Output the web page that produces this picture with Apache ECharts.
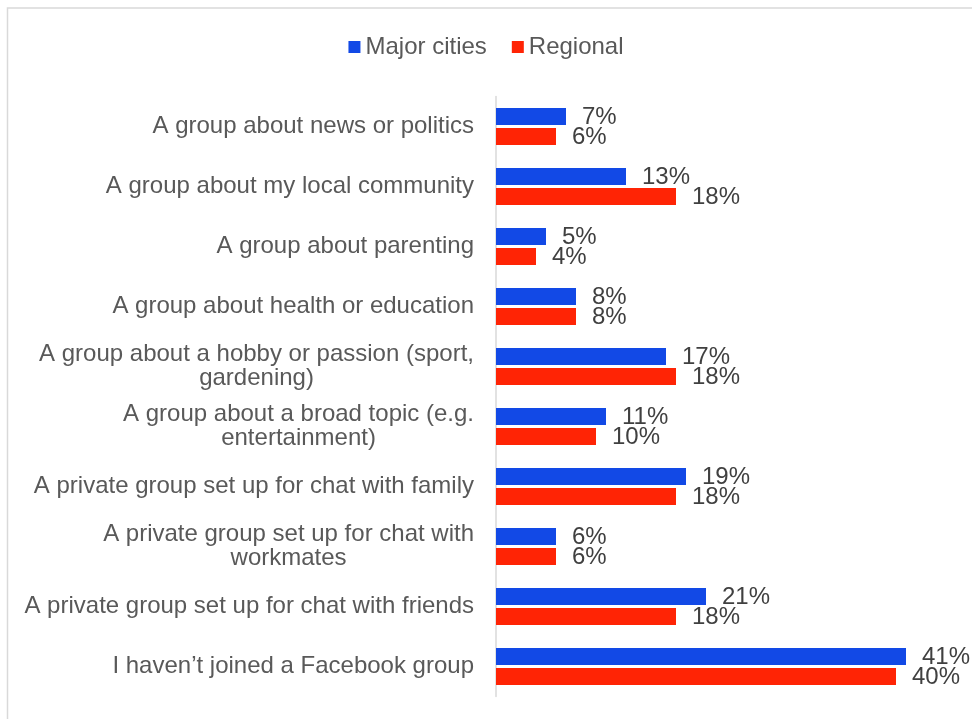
<!DOCTYPE html>
<html>
<head>
<meta charset="utf-8">
<script src="https://cdn.jsdelivr.net/npm/echarts@6/dist/echarts.min.js"></script>
<style>
  html, body { margin: 0; padding: 0; background: #ffffff; }
  #chart { width: 972px; height: 719px; }
</style>
</head>
<body>
<div id="chart"></div>
<script>
// Facebook group membership by location (percent of respondents)
const categories = [
  'A group about news or politics',
  'A group about my local community',
  'A group about parenting',
  'A group about health or education',
  'A group about a hobby or passion (sport,\ngardening)',
  'A group about a broad topic (e.g.\nentertainment)',
  'A private group set up for chat with family',
  'A private group set up for chat with\nworkmates',
  'A private group set up for chat with friends',
  'I haven\u2019t joined a Facebook group'
];
const majorCities = [7, 13, 5, 8, 17, 11, 19, 6, 21, 41];
const regional = [6, 18, 4, 8, 18, 10, 18, 6, 18, 40];

const FONT = '"Liberation Sans", Arial, sans-serif';
const FS = 24;
const BLUE = '#1249e6';
const RED = '#ff2405';

const chart = echarts.init(document.getElementById('chart'), null, { renderer: 'canvas' });

const valueLabel = {
  show: true,
  position: 'right',
  distance: 16,
  offset: [0, 1],
  color: '#404040',
  fontFamily: FONT,
  fontSize: FS,
  formatter: p => p.value + '%'
};

chart.setOption({
  animation: false,
  backgroundColor: '#ffffff',
  graphic: [{
    type: 'rect',
    silent: true,
    shape: { x: 7.5, y: 8, width: 1000, height: 760 },
    style: { fill: null, stroke: '#d9d9d9', lineWidth: 1.5 }
  }],
  legend: {
    top: 30,
    left: 'center',
    icon: 'rect',
    itemWidth: 12,
    itemHeight: 12,
    itemGap: 25,
    textStyle: { color: '#595959', fontFamily: FONT, fontSize: FS },
    data: ['Major cities', 'Regional']
  },
  grid: { left: 496, right: 26, top: 96.5, bottom: 22.5, containLabel: false },
  xAxis: {
    type: 'value',
    min: 0,
    max: 45,
    show: false
  },
  yAxis: {
    type: 'category',
    inverse: true,
    data: categories,
    axisLine: { show: true, lineStyle: { color: '#d9d9d9', width: 1.5 } },
    axisTick: { show: false },
    splitLine: { show: false },
    axisLabel: {
      margin: 22,
      color: '#595959',
      fontFamily: FONT,
      fontSize: FS,
      lineHeight: 24,
      formatter: v => v.split('\n').map(s => '{c|' + s + '}').join('\n'),
      rich: {
        c: { align: 'center', color: '#595959', fontFamily: FONT, fontSize: FS, lineHeight: 24 }
      }
    }
  },
  series: [
    {
      name: 'Major cities',
      type: 'bar',
      data: majorCities,
      barWidth: 17,
      barGap: '18%',
      itemStyle: { color: BLUE },
      label: valueLabel
    },
    {
      name: 'Regional',
      type: 'bar',
      data: regional,
      barWidth: 17,
      barGap: '18%',
      itemStyle: { color: RED },
      label: valueLabel
    }
  ]
});
</script>
</body>
</html>
